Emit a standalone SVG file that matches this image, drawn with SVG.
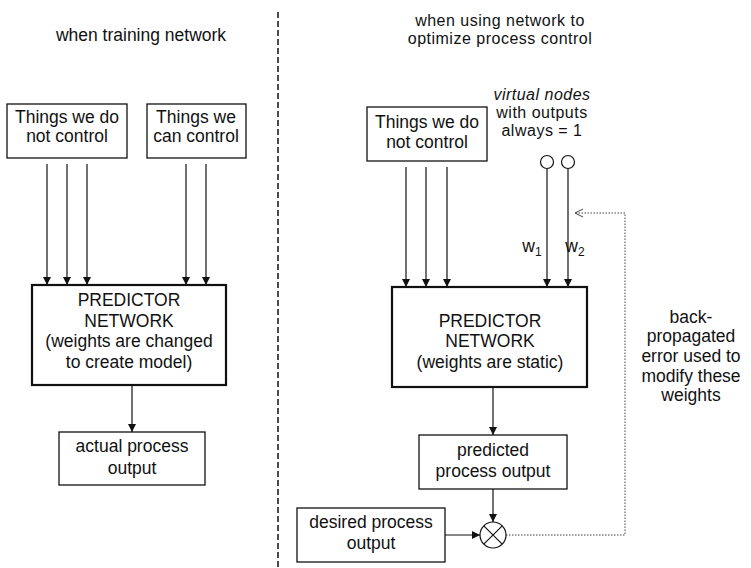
<svg xmlns="http://www.w3.org/2000/svg" width="751" height="568" viewBox="0 0 751 568">
<style>
text{font-family:"Liberation Sans",Arial,sans-serif;font-size:17.5px;fill:#111;text-anchor:middle}
.tight{font-size:16px;letter-spacing:0.5px}
.box{fill:#fff;stroke:#111;stroke-width:1.3}
.pbox{fill:#fff;stroke:#111;stroke-width:2.2}
.line{stroke:#111;stroke-width:1.2;fill:none}
.dot{stroke:#444;stroke-width:1;stroke-dasharray:1.5 1.5;fill:none}
.div{stroke:#111;stroke-width:1.5;stroke-dasharray:6 3;fill:none}
</style>
<defs>
<marker id="ah" markerWidth="9" markerHeight="8" refX="8" refY="4" orient="auto" markerUnits="userSpaceOnUse">
<path d="M0,0 L8,4 L0,8 z" fill="#111"/>
</marker>
<marker id="oh" markerWidth="10" markerHeight="10" refX="8" refY="5" orient="auto" markerUnits="userSpaceOnUse">
<path d="M0,1 L8,5 L0,9" fill="none" stroke="#444" stroke-width="1"/>
</marker>
</defs>
<line class="div" x1="278" y1="12" x2="278" y2="568"/>
<g id="title-left"><text x="141" y="41">when training network</text></g>
<g id="title-right"><text class="tight" x="500" y="26">when using network to</text><text class="tight" x="500" y="44">optimize process control</text></g>
<g id="connectors">
<line class="line" x1="47" y1="164" x2="47" y2="285" marker-end="url(#ah)"/>
<line class="line" x1="67" y1="164" x2="67" y2="285" marker-end="url(#ah)"/>
<line class="line" x1="87" y1="164" x2="87" y2="285" marker-end="url(#ah)"/>
<line class="line" x1="186" y1="164" x2="186" y2="285" marker-end="url(#ah)"/>
<line class="line" x1="206" y1="164" x2="206" y2="285" marker-end="url(#ah)"/>
<line class="line" x1="132" y1="385" x2="132" y2="432" marker-end="url(#ah)"/>
<line class="line" x1="406" y1="167" x2="406" y2="287" marker-end="url(#ah)"/>
<line class="line" x1="426" y1="167" x2="426" y2="287" marker-end="url(#ah)"/>
<line class="line" x1="447" y1="167" x2="447" y2="287" marker-end="url(#ah)"/>
<line class="line" x1="547" y1="168.5" x2="547" y2="287" marker-end="url(#ah)"/>
<line class="line" x1="568" y1="168.5" x2="568" y2="287" marker-end="url(#ah)"/>
<line class="line" x1="493" y1="387" x2="493" y2="435" marker-end="url(#ah)"/>
<line class="line" x1="493" y1="489" x2="493" y2="522" marker-end="url(#ah)"/>
<line class="line" x1="445" y1="535" x2="480" y2="535" marker-end="url(#ah)"/>
<path class="dot" d="M506,535 H625 V213 H575" marker-end="url(#oh)"/>
</g>
<g id="l-uncontrolled"><rect class="box" x="7" y="104" width="120" height="54"/><text x="67" y="123">Things we do</text><text x="67" y="142">not control</text></g>
<g id="l-controlled"><rect class="box" x="147" y="104" width="99" height="54"/><text x="196" y="123">Things we</text><text x="196" y="142">can control</text></g>
<g id="l-predictor"><rect class="pbox" x="32" y="285" width="194" height="100"/><text x="129" y="306">PREDICTOR</text><text x="129" y="327">NETWORK</text><text x="129" y="347">(weights are changed</text><text x="129" y="368">to create model)</text></g>
<g id="l-actual"><rect class="box" x="59" y="432" width="146" height="53"/><text x="132" y="452">actual process</text><text x="132" y="474">output</text></g>
<g id="r-uncontrolled"><rect class="box" x="367" y="107" width="120" height="54"/><text x="427" y="128">Things we do</text><text x="427" y="148">not control</text></g>
<g id="virtual-nodes"><text class="tight" x="542" y="100" font-style="italic">virtual nodes</text><text class="tight" x="542" y="118">with outputs</text><text class="tight" x="542" y="136">always = 1</text>
<circle cx="547" cy="162" r="6.5" fill="#fff" stroke="#111" stroke-width="1.2"/><circle cx="568" cy="162" r="6.5" fill="#fff" stroke="#111" stroke-width="1.2"/></g>
<g id="weights"><text x="532" y="252">w<tspan font-size="12" dy="4">1</tspan></text><text x="575" y="252">w<tspan font-size="12" dy="4">2</tspan></text></g>
<g id="r-predictor"><rect class="pbox" x="392" y="287" width="195" height="100"/><text x="490" y="327">PREDICTOR</text><text x="490" y="347">NETWORK</text><text x="490" y="368">(weights are static)</text></g>
<g id="r-predicted"><rect class="box" x="419" y="435" width="148" height="54"/><text x="493" y="456">predicted</text><text x="493" y="477">process output</text></g>
<g id="r-desired"><rect class="box" x="297" y="508" width="148" height="54"/><text x="371" y="528">desired process</text><text x="371" y="549">output</text></g>
<g id="comparator"><circle cx="493" cy="535" r="13" fill="#fff" stroke="#111" stroke-width="1.2"/><path class="line" d="M483.8,525.8 L502.2,544.2 M502.2,525.8 L483.8,544.2"/></g>
<g id="backprop-label"><text x="691" y="323">back-</text><text x="691" y="342">propagated</text><text x="691" y="362">error used to</text><text x="691" y="382">modify these</text><text x="691" y="401">weights</text></g>
</svg>
